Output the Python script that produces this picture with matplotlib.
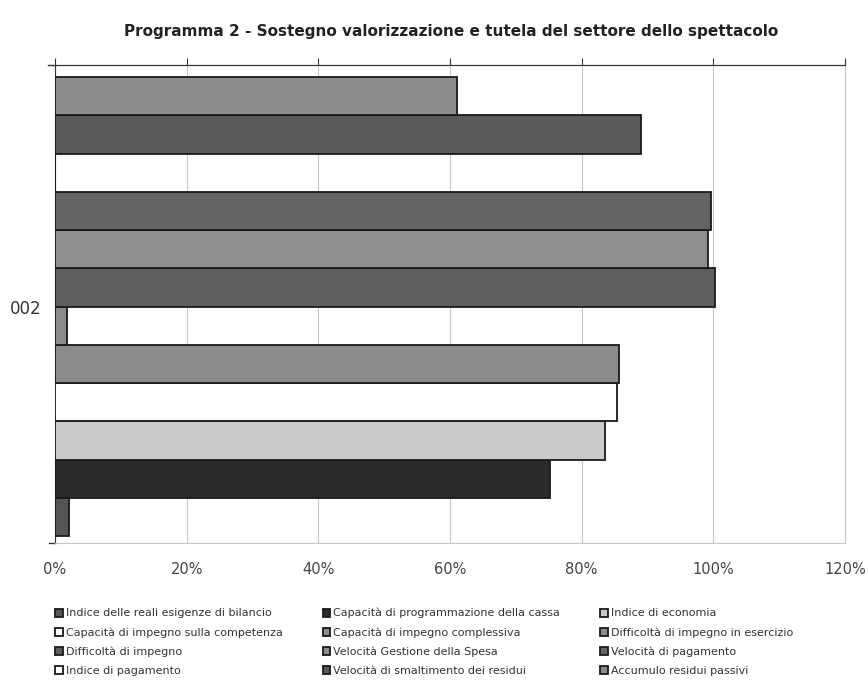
import numpy as np
import matplotlib.pyplot as plt
from matplotlib.ticker import PercentFormatter

# Data (series 1 is drawn at the bottom, as in Excel)
series = [
    "Indice delle reali esigenze di bilancio",
    "Capacità di programmazione della cassa",
    "Indice di economia",
    "Capacità di impegno sulla competenza",
    "Capacità di impegno complessiva",
    "Difficoltà di impegno in esercizio",
    "Difficoltà di impegno",
    "Velocità Gestione della Spesa",
    "Velocità di pagamento",
    "Indice di pagamento",
    "Velocità di smaltimento dei residui",
    "Accumulo residui passivi",
]
values = [2.1, 75.2, 83.6, 85.3, 85.7, 1.8, 100.3, 99.2, 99.7, 0.0, 89.0, 61.1]
colors = ["#555555", "#2b2b2b", "#cacaca", "#ffffff", "#8c8c8c", "#8c8c8c",
          "#5e5e5e", "#8e8e8e", "#646464", "#ffffff", "#5a5a5a", "#8c8c8c"]
category = "002"

fig = plt.figure(figsize=(8.68, 6.87), dpi=100)
ax = fig.add_axes([0.0634, 0.2096, 0.9101, 0.6958])

pos = np.arange(len(values))
for i in range(len(values)):
    ax.barh(pos[i], values[i], height=1.0, color=colors[i], edgecolor="#1a1a1a",
            linewidth=1.3, label=series[i], zorder=3)

ax.set_xlim(0, 120)
ax.set_ylim(-0.68, 11.82)
ax.set_xticks(np.arange(0, 121, 20))
ax.xaxis.set_major_formatter(PercentFormatter(decimals=0))
ax.set_yticks([pos.mean()])
ax.set_yticklabels([category], fontsize=12, color="#333333")
ax.tick_params(axis="y", length=0, pad=10)
ax.tick_params(axis="x", labelsize=10.5, labelcolor="#444444", length=0, pad=14)
ax.grid(axis="x", color="#c8c8c8", linewidth=0.8, zorder=0)

# small ticks at both ends of the category axis
ax.plot([-0.9, 0], [-0.68, -0.68], color="#333333", lw=1, clip_on=False)
ax.plot([-1.1, 0], [11.82, 11.82], color="#333333", lw=1, clip_on=False)

ax.spines["top"].set_color("#333333")
ax.spines["left"].set_color("#333333")
ax.spines["bottom"].set_color("#c8c8c8")
ax.spines["right"].set_color("#c8c8c8")
secax = ax.secondary_xaxis("top")
secax.set_xticks(np.arange(0, 121, 20))
secax.tick_params(length=5, color="#333333", labeltop=False)
secax.spines["top"].set_color("#333333")

fig.suptitle("Programma 2 - Sostegno valorizzazione e tutela del settore dello spettacolo",
             x=0.52, y=0.965, fontsize=11, fontweight="bold", color="#222222")

handles, labels = ax.get_legend_handles_labels()
# Excel legend order: row-wise, 3 columns
order = []
ncol = 3
nrow = 4
for c in range(ncol):
    for r in range(nrow):
        order.append(r * ncol + c)
leg = fig.legend([handles[k] for k in order], [labels[k] for k in order],
                 loc="upper left", ncol=3,
                 fontsize=8, frameon=False, handlelength=0.7, handleheight=0.7,
                 handletextpad=0.25, columnspacing=3.6, labelspacing=0.78)
leg.set_bbox_to_anchor((0.052, 1 - 598 / 687), transform=fig.transFigure)
for t in leg.get_texts():
    t.set_color("#333333")

plt.savefig("out.png", dpi=100)
